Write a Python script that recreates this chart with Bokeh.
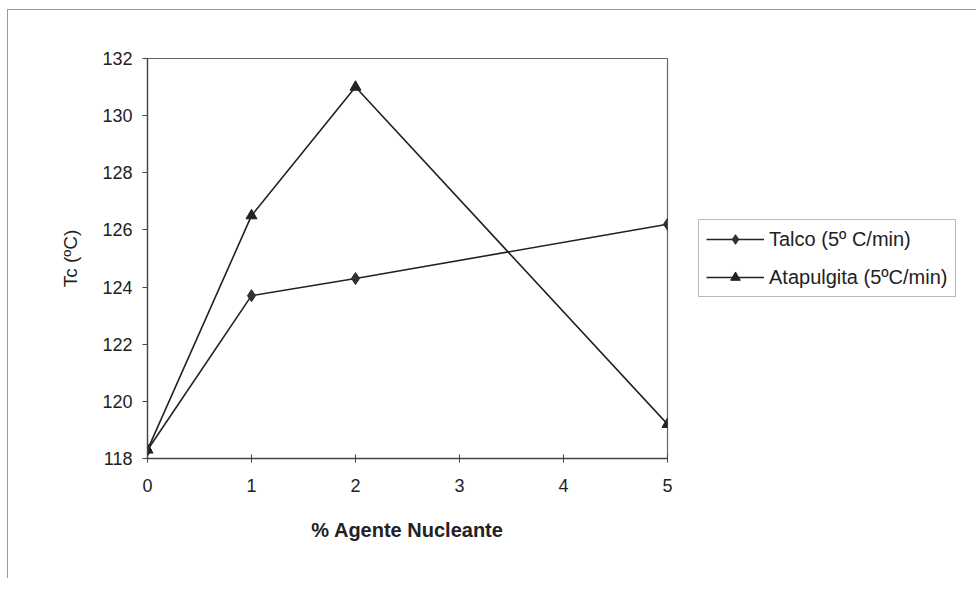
from bokeh.plotting import figure
from bokeh.models import Range1d, Legend, LegendItem, FixedTicker
from bokeh.embed import file_html
from bokeh.resources import INLINE

# Data
agent_pct = [0, 1, 2, 5]
talco_tc = [118.3, 123.7, 124.3, 126.2]
atapulgita_tc = [118.3, 126.5, 131.0, 119.2]
x_ticks = [0, 1, 2, 3, 4, 5]
y_ticks = [118, 120, 122, 124, 126, 128, 130, 132]

FONT = "Liberation Sans"
INK = "#222222"

p = figure(
    frame_width=520, frame_height=400,
    output_backend="svg", toolbar_location=None,
    x_range=Range1d(0, 5), y_range=Range1d(118, 132),
    min_border_left=139, min_border_right=300,
    min_border_top=48, min_border_bottom=120,
)
p.styles = {"border-top": "1px solid #9a9a9a", "border-left": "1px solid #9a9a9a",
            "margin-left": "7px", "margin-top": "9px"}

p.xgrid.visible = False
p.ygrid.visible = False
p.outline_line_color = "#666666"
p.outline_line_width = 1.2
p.background_fill_color = "white"
p.border_fill_color = "white"

# axes
p.xaxis.ticker = FixedTicker(ticks=x_ticks)
p.yaxis.ticker = FixedTicker(ticks=y_ticks)
p.xaxis.minor_tick_line_color = None
p.yaxis.minor_tick_line_color = None
p.xaxis.major_tick_in = 4
p.xaxis.major_tick_out = 4
p.yaxis.major_tick_in = 0
p.yaxis.major_tick_out = 5
for ax in (p.xaxis, p.yaxis):
    ax.axis_line_color = "#444444"
    ax.axis_line_width = 1.3
    ax.major_tick_line_color = "#444444"
    ax.major_label_text_font = FONT
    ax.major_label_text_font_size = "18px"
    ax.major_label_text_color = INK
    ax.axis_label_text_font = FONT
    ax.axis_label_text_color = INK
p.xaxis.major_label_standoff = 16
p.yaxis.major_label_standoff = 10

p.xaxis.axis_label = "% Agente Nucleante"
p.xaxis.axis_label_text_font_style = "bold"
p.xaxis.axis_label_text_font_size = "20px"
p.xaxis.axis_label_standoff = 24

p.yaxis.axis_label = "Tc (ºC)"
p.yaxis.axis_label_text_font_style = "normal"
p.yaxis.axis_label_text_font_size = "19px"
p.yaxis.axis_label_standoff = 18

# series
l1 = p.line(agent_pct, talco_tc, line_color=INK, line_width=1.6)
m1 = p.scatter(agent_pct, talco_tc, marker="diamond", size=12,
               fill_color="#333333", line_color=INK)
l2 = p.line(agent_pct, atapulgita_tc, line_color=INK, line_width=1.6)
m2 = p.scatter(agent_pct, atapulgita_tc, marker="triangle", size=11,
               fill_color="#222222", line_color=INK)

legend = Legend(
    items=[
        LegendItem(label="Talco (5º C/min)", renderers=[l1, m1]),
        LegendItem(label="Atapulgita (5ºC/min)", renderers=[l2, m2]),
    ],
    location=(31, 161),
    orientation="vertical",
    border_line_color="#777777",
    border_line_width=1,
    background_fill_color="white",
    background_fill_alpha=1,
    label_text_font=FONT,
    label_text_font_size="20px",
    label_text_color=INK,
    glyph_width=58,
    glyph_height=24,
    label_height=24,
    label_standoff=5,
    spacing=14,
    padding=7,
    margin=0,
)
p.add_layout(legend, "right")

open("out.html", "w").write(file_html(p, INLINE))
